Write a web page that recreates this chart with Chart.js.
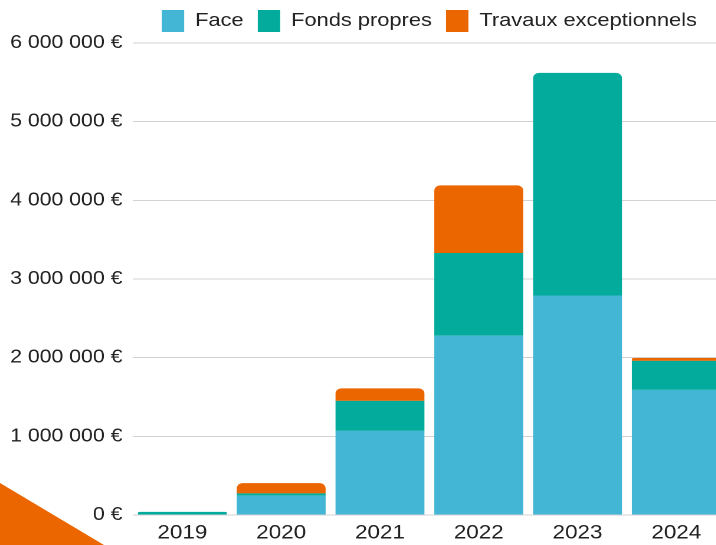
<!DOCTYPE html>
<html lang="fr">
<head>
<meta charset="utf-8">
<script src="https://cdn.jsdelivr.net/npm/chart.js@4"></script>
<style>
  html, body { margin: 0; padding: 0; background: #fff; overflow: hidden; }
  /* the reference is stretched sideways, so the chart is drawn narrow and widened */
  #wrap { position: absolute; left: 0; top: 0; width: 615px; height: 545px;
          transform: scaleX(1.18); transform-origin: 0 0; }
  #corner {
    position: absolute; left: 0; bottom: 0; width: 110px; height: 64px;
    background: #ec6600;
    clip-path: polygon(0 2px, 104px 64px, 0 64px);
  }
</style>
</head>
<body>
<div id="wrap">
  <canvas id="chart"></canvas>
</div>
<div id="corner"></div>
<script>
// Montants par année (€)
const years = ['2019', '2020', '2021', '2022', '2023', '2024'];
const face = [0, 245000, 1070000, 2280000, 2790000, 1590000];
const fondsPropres = [40000, 30000, 380000, 1050000, 2830000, 370000];
const travaux = [0, 130000, 160000, 860000, 0, 35000];
const yTicks = [0, 1000000, 2000000, 3000000, 4000000, 5000000, 6000000];

const series = [face, fondsPropres, travaux];
const stretch = 1.18;

function euros(v) {
    return String(v).replace(/\B(?=(\d{3})+(?!\d))/g, ' ') + ' €';
}

// arrondi seulement sur le segment du haut de chaque colonne
function topRadius(ctx) {
    const i = ctx.dataIndex;
    for (let d = ctx.datasetIndex + 1; d < series.length; d++) {
        if (series[d][i] > 0) return 0;
    }
    return { topLeft: 5, topRight: 5, bottomLeft: 0, bottomRight: 0 };
}

// légende centrée sur la zone du graphique
const legendOnArea = {
    id: 'legendOnArea',
    afterLayout(chart) {
        const lg = chart.legend;
        lg.left = chart.chartArea.left;
        lg.right = chart.chartArea.right;
        lg.top -= 1;
        lg.bottom -= 1;
    }
};

Chart.defaults.font.family = "'Liberation Sans', Arial, sans-serif";
Chart.defaults.color = '#222';

new Chart(document.getElementById('chart'), {
    type: 'bar',
    data: {
        labels: years,
        datasets: [
            { label: 'Face', data: face, backgroundColor: '#43b5d5' },
            { label: 'Fonds propres', data: fondsPropres, backgroundColor: '#03ab9c' },
            { label: 'Travaux exceptionnels', data: travaux, backgroundColor: '#ec6600' }
        ]
    },
    options: {
        responsive: true,
        maintainAspectRatio: false,
        devicePixelRatio: 2,
        animation: false,
        barPercentage: 0.9,
        categoryPercentage: 1,
        borderRadius: topRadius,
        borderSkipped: 'start',
        layout: { padding: { top: -1, left: 0, right: 0, bottom: 0 } },
        plugins: {
            legend: {
                display: true,
                position: 'top',
                labels: { boxWidth: Math.round(22 / stretch), boxHeight: 22, padding: 12, font: { size: 18.5 }, color: '#222' }
            },
            tooltip: { enabled: false }
        },
        scales: {
            x: {
                stacked: true,
                grid: { display: false, drawTicks: false },
                border: { display: false },
                ticks: { padding: 7, font: { size: 19 }, color: '#222' },
                afterFit: (scale) => { scale.height = 30; }
            },
            y: {
                stacked: true,
                min: 0,
                max: 6000000,
                afterBuildTicks: (scale) => { scale.ticks = yTicks.map(v => ({ value: v })); },
                grid: { color: '#d2d2d2', drawTicks: false },
                border: { display: false },
                ticks: { padding: 9, font: { size: 18 }, color: '#222', callback: (v) => euros(v) },
                afterFit: (scale) => { scale.width = 133 / stretch; }
            }
        }
    },
    plugins: [legendOnArea]
});
</script>
</body>
</html>
